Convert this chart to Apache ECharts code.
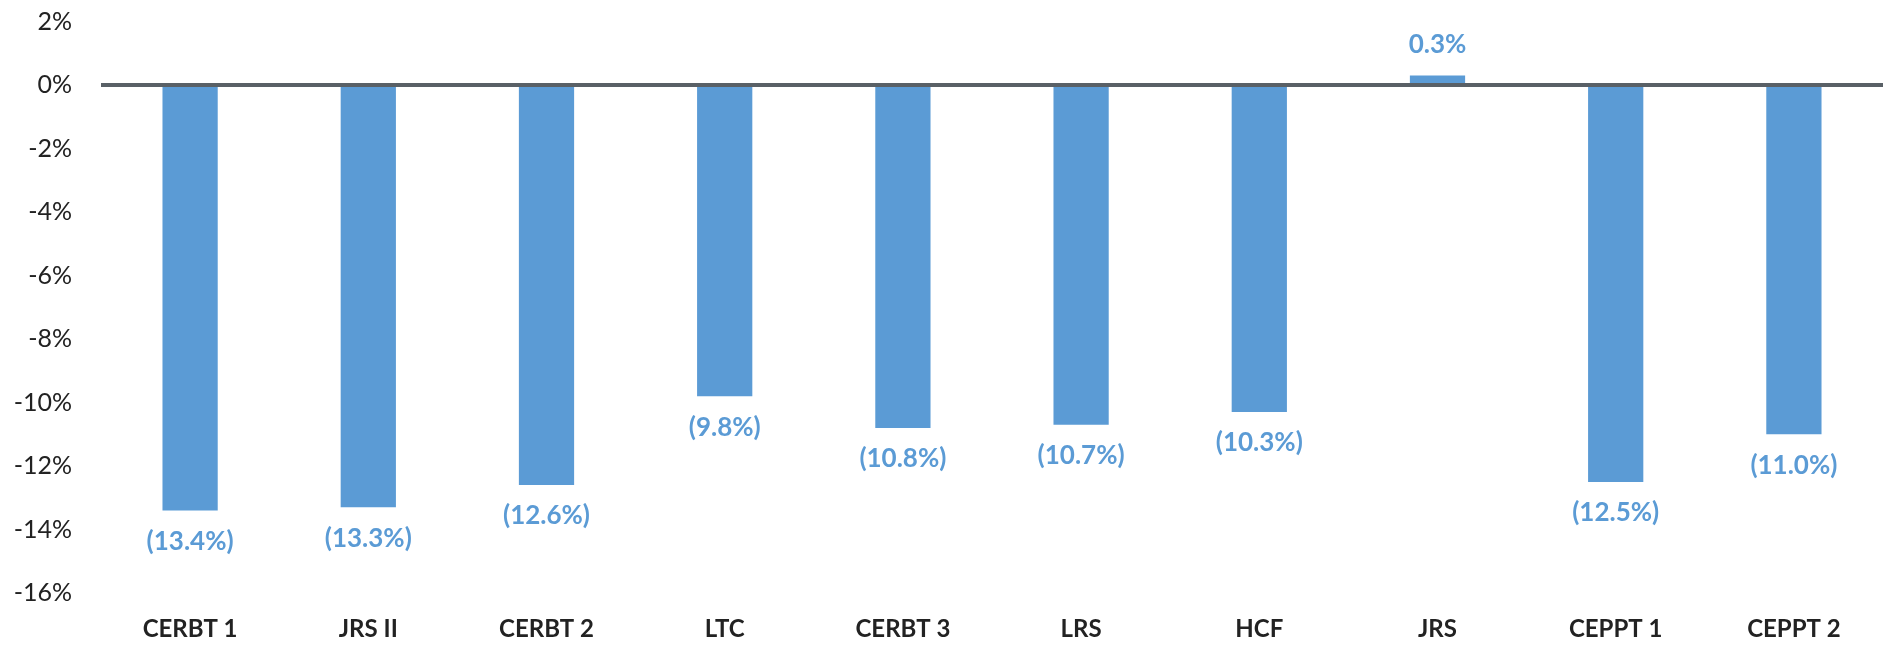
<!DOCTYPE html>
<html><head><meta charset="utf-8">
<script src="https://cdn.jsdelivr.net/npm/echarts@6/dist/echarts.min.js"></script>
<style>html,body{margin:0;padding:0;background:#fff;}#c{width:1883px;height:647px;}</style>
</head><body><div id="c"></div>
<script>
var categories = ['CERBT 1','JRS II','CERBT 2','LTC','CERBT 3','LRS','HCF','JRS','CEPPT 1','CEPPT 2'];
var values = [-13.4,-13.3,-12.6,-9.8,-10.8,-10.7,-10.3,0.3,-12.5,-11.0];
var yTicks = {min:-16, max:2, interval:2};

function fmt(v){ return v < 0 ? '(' + Math.abs(v).toFixed(1) + '%)' : v.toFixed(1) + '%'; }

var chart = echarts.init(document.getElementById('c'), null, {renderer:'canvas'});
chart.setOption({
  animation:false,
  backgroundColor:'#ffffff',
  grid:{left:101, right:-4, top:21.5, bottom:54, containLabel:false},
  xAxis:{
    type:'category', data:categories, position:'bottom',
    axisLine:{show:false, onZero:false}, axisTick:{show:false},
    axisLabel:{margin:24, fontFamily:'Lato, "Open Sans", sans-serif', fontSize:24, color:'#222', fontWeight:'bold'}
  },
  yAxis:{
    type:'value', min:yTicks.min, max:yTicks.max, interval:yTicks.interval,
    axisLine:{show:false}, axisTick:{show:false}, splitLine:{show:false},
    axisLabel:{formatter:'{value}%', margin:29, fontFamily:'Lato, "Open Sans", sans-serif', fontSize:25, color:'#222'}
  },
  series:[{
    type:'bar', data:values, barWidth:'31%',
    itemStyle:{color:'#5b9bd5'},
    label:{show:true, position:'outside', distance:18, formatter:function(p){return fmt(p.value);},
      fontFamily:'Lato, "Open Sans", sans-serif', fontSize:26, fontWeight:'bold', color:'#5b9bd5'},
    markLine:{silent:true, symbol:'none', label:{show:false},
      lineStyle:{color:'#596066', width:4, type:'solid'},
      data:[{yAxis:0}]}
  }]
});
</script></body></html>
